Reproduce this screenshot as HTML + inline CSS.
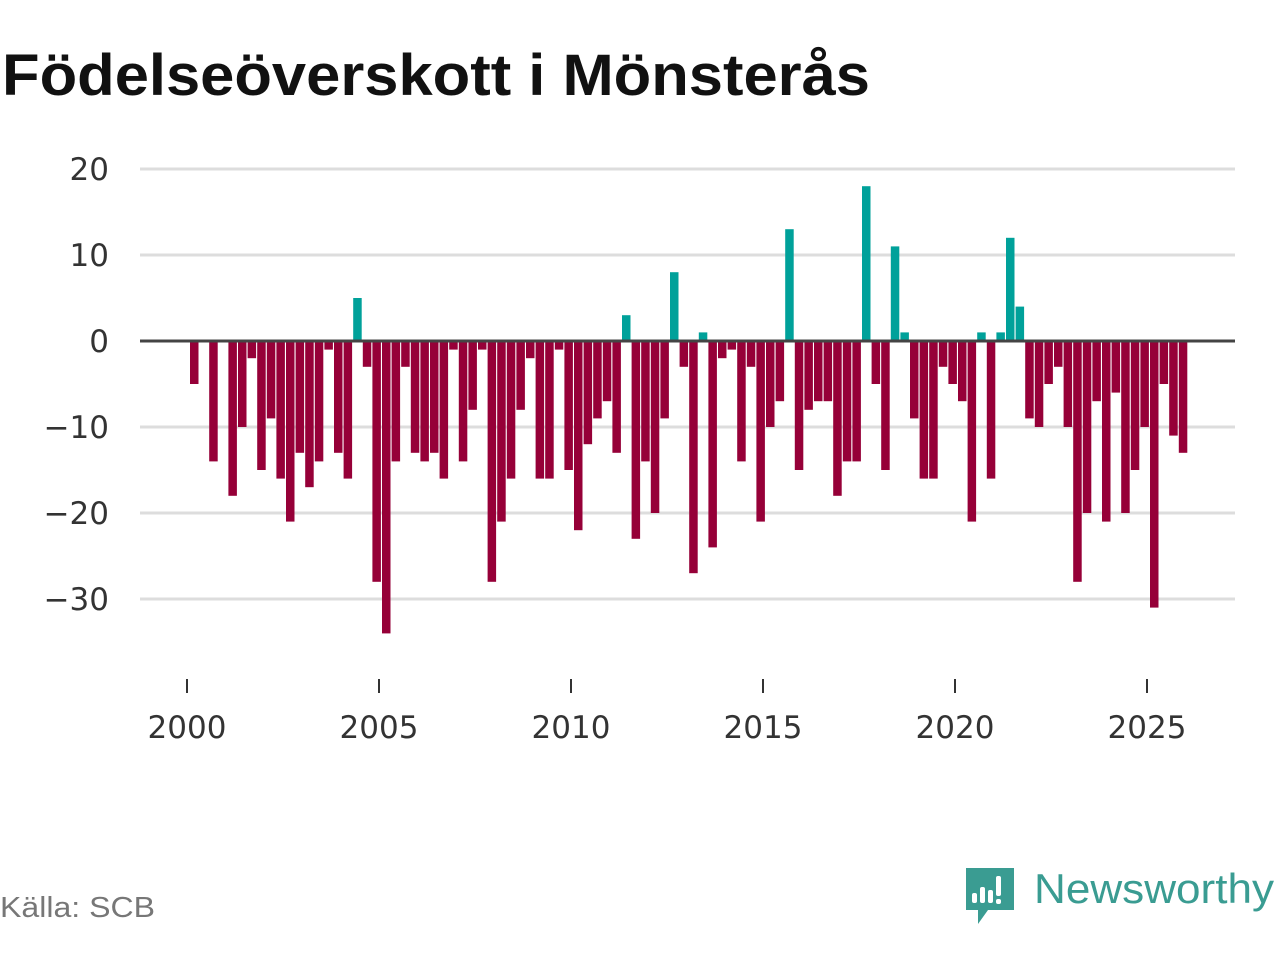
<!DOCTYPE html>
<html><head><meta charset="utf-8"><style>
html,body{margin:0;padding:0;background:#fff;width:1280px;height:960px;overflow:hidden}
svg text{font-family:"Liberation Sans","DejaVu Sans",sans-serif}
svg text.tick{font-family:"DejaVu Sans","Liberation Sans",sans-serif}
</style></head><body>
<svg id="chart" width="1280" height="960" xmlns="http://www.w3.org/2000/svg">
<text x="2" y="95" font-size="58" font-weight="bold" fill="#111" textLength="868" lengthAdjust="spacingAndGlyphs">Födelseöverskott i Mönsterås</text>
<g id="grid"></g>
<g id="bars"></g>
<g id="xaxis"></g>
<text x="0" y="917" font-size="29" fill="#777" textLength="155" lengthAdjust="spacingAndGlyphs">Källa: SCB</text>
<g>
<path d="M966 868 h48 v42 h-26 l-10 14 v-14 h-12 z" fill="#3a9c92"/>
<rect x="972" y="893" width="5" height="10" rx="2" fill="#fff"/>
<rect x="980" y="887" width="5" height="16" rx="2" fill="#fff"/>
<rect x="988" y="890" width="5" height="13" rx="2" fill="#fff"/>
<rect x="996" y="876" width="5" height="20" rx="2" fill="#fff"/>
<rect x="996" y="899" width="5" height="5" rx="2" fill="#fff"/>
<text x="1034" y="903" font-size="42" fill="#3a9c92" textLength="240" lengthAdjust="spacingAndGlyphs">Newsworthy</text>
</g>
</svg>
<script>
const values = [-5,0,-14,0,-18,-10,-2,-15,-9,-16,-21,-13,-17,-14,-1,-13,-16,5,-3,-28,-34,-14,-3,-13,-14,-13,-16,-1,-14,-8,-1,-28,-21,-16,-8,-2,-16,-16,-1,-15,-22,-12,-9,-7,-13,3,-23,-14,-20,-9,8,-3,-27,1,-24,-2,-1,-14,-3,-21,-10,-7,13,-15,-8,-7,-7,-18,-14,-14,18,-5,-15,11,1,-9,-16,-16,-3,-5,-7,-21,1,-16,1,12,4,-9,-10,-5,-3,-10,-28,-20,-7,-21,-6,-20,-15,-10,-31,-5,-11,-13];
const startYear = 2000;
const yTicks = [20,10,0,-10,-20,-30];
const yTickLabels = ["20","10","0","\u221210","\u221220","\u221230"];
const xTicks = [2000,2005,2010,2015,2020,2025];
const NS="http://www.w3.org/2000/svg";
const x = yr => 187 + (yr-2000)*38.4;
const y = v => 341 - v*8.6;
function mk(tag, attrs, parent){const e=document.createElementNS(NS,tag);for(const k in attrs)e.setAttribute(k,attrs[k]);parent.appendChild(e);return e;}
const grid=document.getElementById('grid'), bars=document.getElementById('bars'), xa=document.getElementById('xaxis');
yTicks.forEach((t,i)=>{
  if(t!==0){const l=mk('line',{x1:140,x2:1235,y1:y(t),y2:y(t),stroke:'#ddd','stroke-width':3},grid);
  
  }
  const tx=mk('text',{x:109,y:y(t)+11,'font-size':31,fill:'#333','text-anchor':'end','class':'tick'},grid);
  tx.textContent=yTickLabels[i];
  
  
});
values.forEach((v,k)=>{
  if(v===0)return;
  const cx=x(startYear+k*0.25)+7;
  const r=mk('rect',{x:cx-4,width:8.5,y:Math.min(y(v),y(0)),height:Math.abs(y(v)-y(0)),fill:v>0?'#00a19a':'#960038'},bars);
  
  
});
const zl=mk('line',{x1:140,x2:1235,y1:y(0),y2:y(0),stroke:'#444','stroke-width':3},bars);


xTicks.forEach(t=>{
  const l=mk('line',{x1:x(t),x2:x(t),y1:679,y2:693,stroke:'#333','stroke-width':2},xa);
  
  
  const tx=mk('text',{x:x(t),y:738,'font-size':31,fill:'#333','text-anchor':'middle','class':'tick'},xa);
  tx.textContent=String(t);
  
  
});
</script>
</body></html>
